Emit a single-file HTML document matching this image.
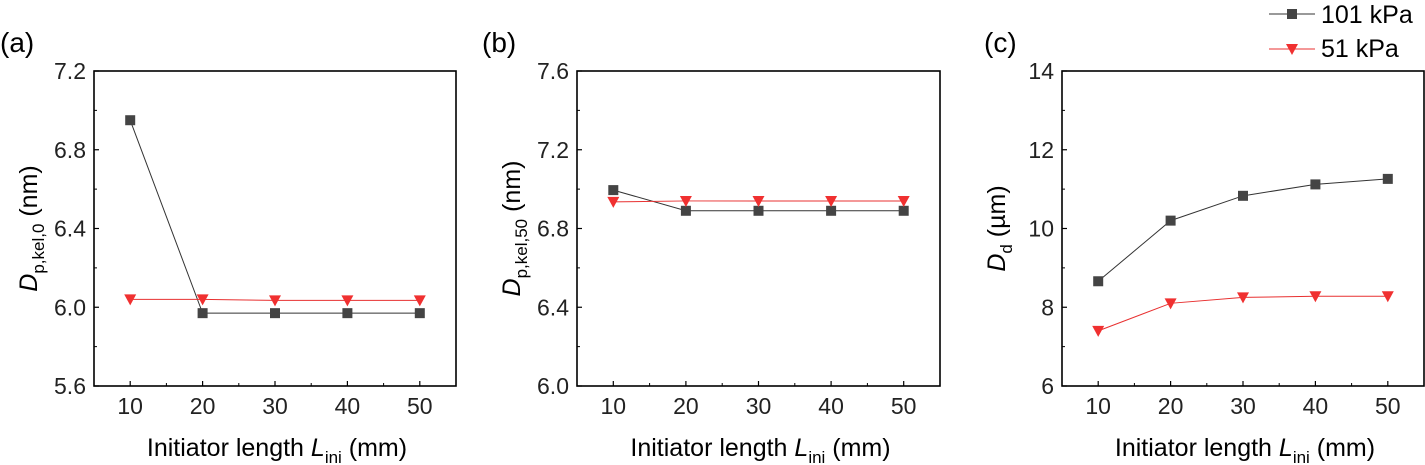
<!DOCTYPE html>
<html><head><meta charset="utf-8"><style>
body{margin:0;background:#fff;}
svg{display:block;font-family:"Liberation Sans",Arial,sans-serif;}
</style></head><body>
<svg id="chart" width="1425" height="465" viewBox="0 0 1425 465"></svg>
<script>
const xCats=[10,20,30,40,50];
const aS101=[6.95,5.97,5.97,5.97,5.97];
const aS51=[6.04,6.04,6.035,6.035,6.035];
const bS101=[6.995,6.89,6.89,6.89,6.89];
const bS51=[6.935,6.94,6.94,6.94,6.94];
const cS101=[8.66,10.2,10.83,11.12,11.26];
const cS51=[7.4,8.1,8.25,8.28,8.28];
const aTicks=[5.6,6.0,6.4,6.8,7.2];
const bTicks=[6.0,6.4,6.8,7.2,7.6];
const cTicks=[6,8,10,12,14];
const xTickLabels=["10","20","30","40","50"];
const NS="http://www.w3.org/2000/svg";
const svg=document.getElementById('chart');
function mk(tag,attrs,parent){const e=document.createElementNS(NS,tag);for(const k in attrs)e.setAttribute(k,attrs[k]);(parent||svg).appendChild(e);return e;}
function panel(o){
  const g=mk('g',{});
  
  
  const L=o.x0,R=o.x1,T=71,B=386;
  const sx=v=>L+(v-5)/50*(R-L);
  const ymin=o.ticks[0],ymax=o.ticks[o.ticks.length-1];
  const sy=v=>B-(v-ymin)/(ymax-ymin)*(B-T);
  const box=mk('rect',{x:L,y:T,width:R-L,height:B-T,fill:'none',stroke:'#000','stroke-width':1.6},g);
  
  
  const step=o.ticks[1]-o.ticks[0];
  o.ticks.forEach((t,i)=>{
    const y=sy(t);
    mk('line',{x1:L,x2:L+5,y1:y,y2:y,stroke:'#000','stroke-width':1.2},g);
    const tx=mk('text',{x:L-8,y:y+8,'text-anchor':'end','font-size':23,fill:'#222'},g);
    tx.textContent=o.fmt(t);
    
    
    if(i<o.ticks.length-1){const ym=sy(t+step/2);mk('line',{x1:L,x2:L+3,y1:ym,y2:ym,stroke:'#000','stroke-width':1},g);}
  });
  xCats.forEach((c,i)=>{
    const x=sx(c);
    mk('line',{x1:x,x2:x,y1:B,y2:B-5,stroke:'#000','stroke-width':1.2},g);
    if(i<xCats.length-1){const xm=sx(c+5);mk('line',{x1:xm,x2:xm,y1:B,y2:B-3,stroke:'#000','stroke-width':1},g);}
    const tx=mk('text',{x:x,y:B+28,'text-anchor':'middle','font-size':23,fill:'#222'},g);
    tx.textContent=xTickLabels[i];
    
    
  });
  const xt=mk('text',{x:(L+R)/2+2,y:456,'text-anchor':'middle','font-size':25,fill:'#000'},g);
  xt.innerHTML='Initiator length <tspan font-style="italic">L</tspan><tspan font-size="17" dy="7">ini</tspan><tspan dy="-7"> (mm)</tspan>';
  
  
  const yt=mk('text',{x:0,y:0,'text-anchor':'middle','font-size':25,transform:`translate(${L-57},${(T+B)/2}) rotate(-90)`},g);
  yt.innerHTML=o.ytitle;
  
  
  const pl=mk('text',{x:o.lx,y:52,'font-size':28},g);
  pl.textContent='('+o.id+')';
  
  
  const s1=mk('polyline',{points:xCats.map((c,i)=>sx(c)+','+sy(o.s101[i])).join(' '),fill:'none',stroke:'#333','stroke-width':1},g);
  
  
  const s2=mk('polyline',{points:xCats.map((c,i)=>sx(c)+','+sy(o.s51[i])).join(' '),fill:'none',stroke:'#e83030','stroke-width':1},g);
  
  
  xCats.forEach((c,i)=>{
    const x=sx(c),y=sy(o.s101[i]);
    const m=mk('rect',{x:x-5,y:y-5,width:10,height:10,fill:'#444'},g);
    
    
  });
  xCats.forEach((c,i)=>{
    const x=sx(c),y=sy(o.s51[i]);
    const m=mk('polygon',{points:`${x-6},${y-5} ${x+6},${y-5} ${x},${y+6}`,fill:'#f03030'},g);
    
    
  });
}
panel({id:'a',x0:94,x1:456,lx:0,ticks:aTicks,fmt:v=>v.toFixed(1),s101:aS101,s51:aS51,
  ytitle:'<tspan font-style="italic">D</tspan><tspan font-size="17" dy="7">p,kel,0</tspan><tspan dy="-7"> (nm)</tspan>'});
panel({id:'b',x0:577,x1:940,lx:482,ticks:bTicks,fmt:v=>v.toFixed(1),s101:bS101,s51:bS51,
  ytitle:'<tspan font-style="italic">D</tspan><tspan font-size="17" dy="7">p,kel,50</tspan><tspan dy="-7"> (nm)</tspan>'});
panel({id:'c',x0:1062,x1:1424,lx:984,ticks:cTicks,fmt:v=>String(v),s101:cS101,s51:cS51,
  ytitle:'<tspan font-style="italic">D</tspan><tspan font-size="17" dy="7">d</tspan><tspan dy="-7"> (µm)</tspan>'});
const lg=mk('g',{});


mk('line',{x1:1269,x2:1315,y1:14,y2:14,stroke:'#333','stroke-width':1},lg);
mk('rect',{x:1287,y:9,width:10,height:10,fill:'#444'},lg);
const t1=mk('text',{x:1321,y:23,'font-size':25},lg);t1.textContent='101 kPa';


mk('line',{x1:1269,x2:1315,y1:49,y2:49,stroke:'#e83030','stroke-width':1},lg);
mk('polygon',{points:'1286,44 1298,44 1292,55',fill:'#f03030'},lg);
const t2=mk('text',{x:1321,y:57,'font-size':25},lg);t2.textContent='51 kPa';


</script>
</body></html>
